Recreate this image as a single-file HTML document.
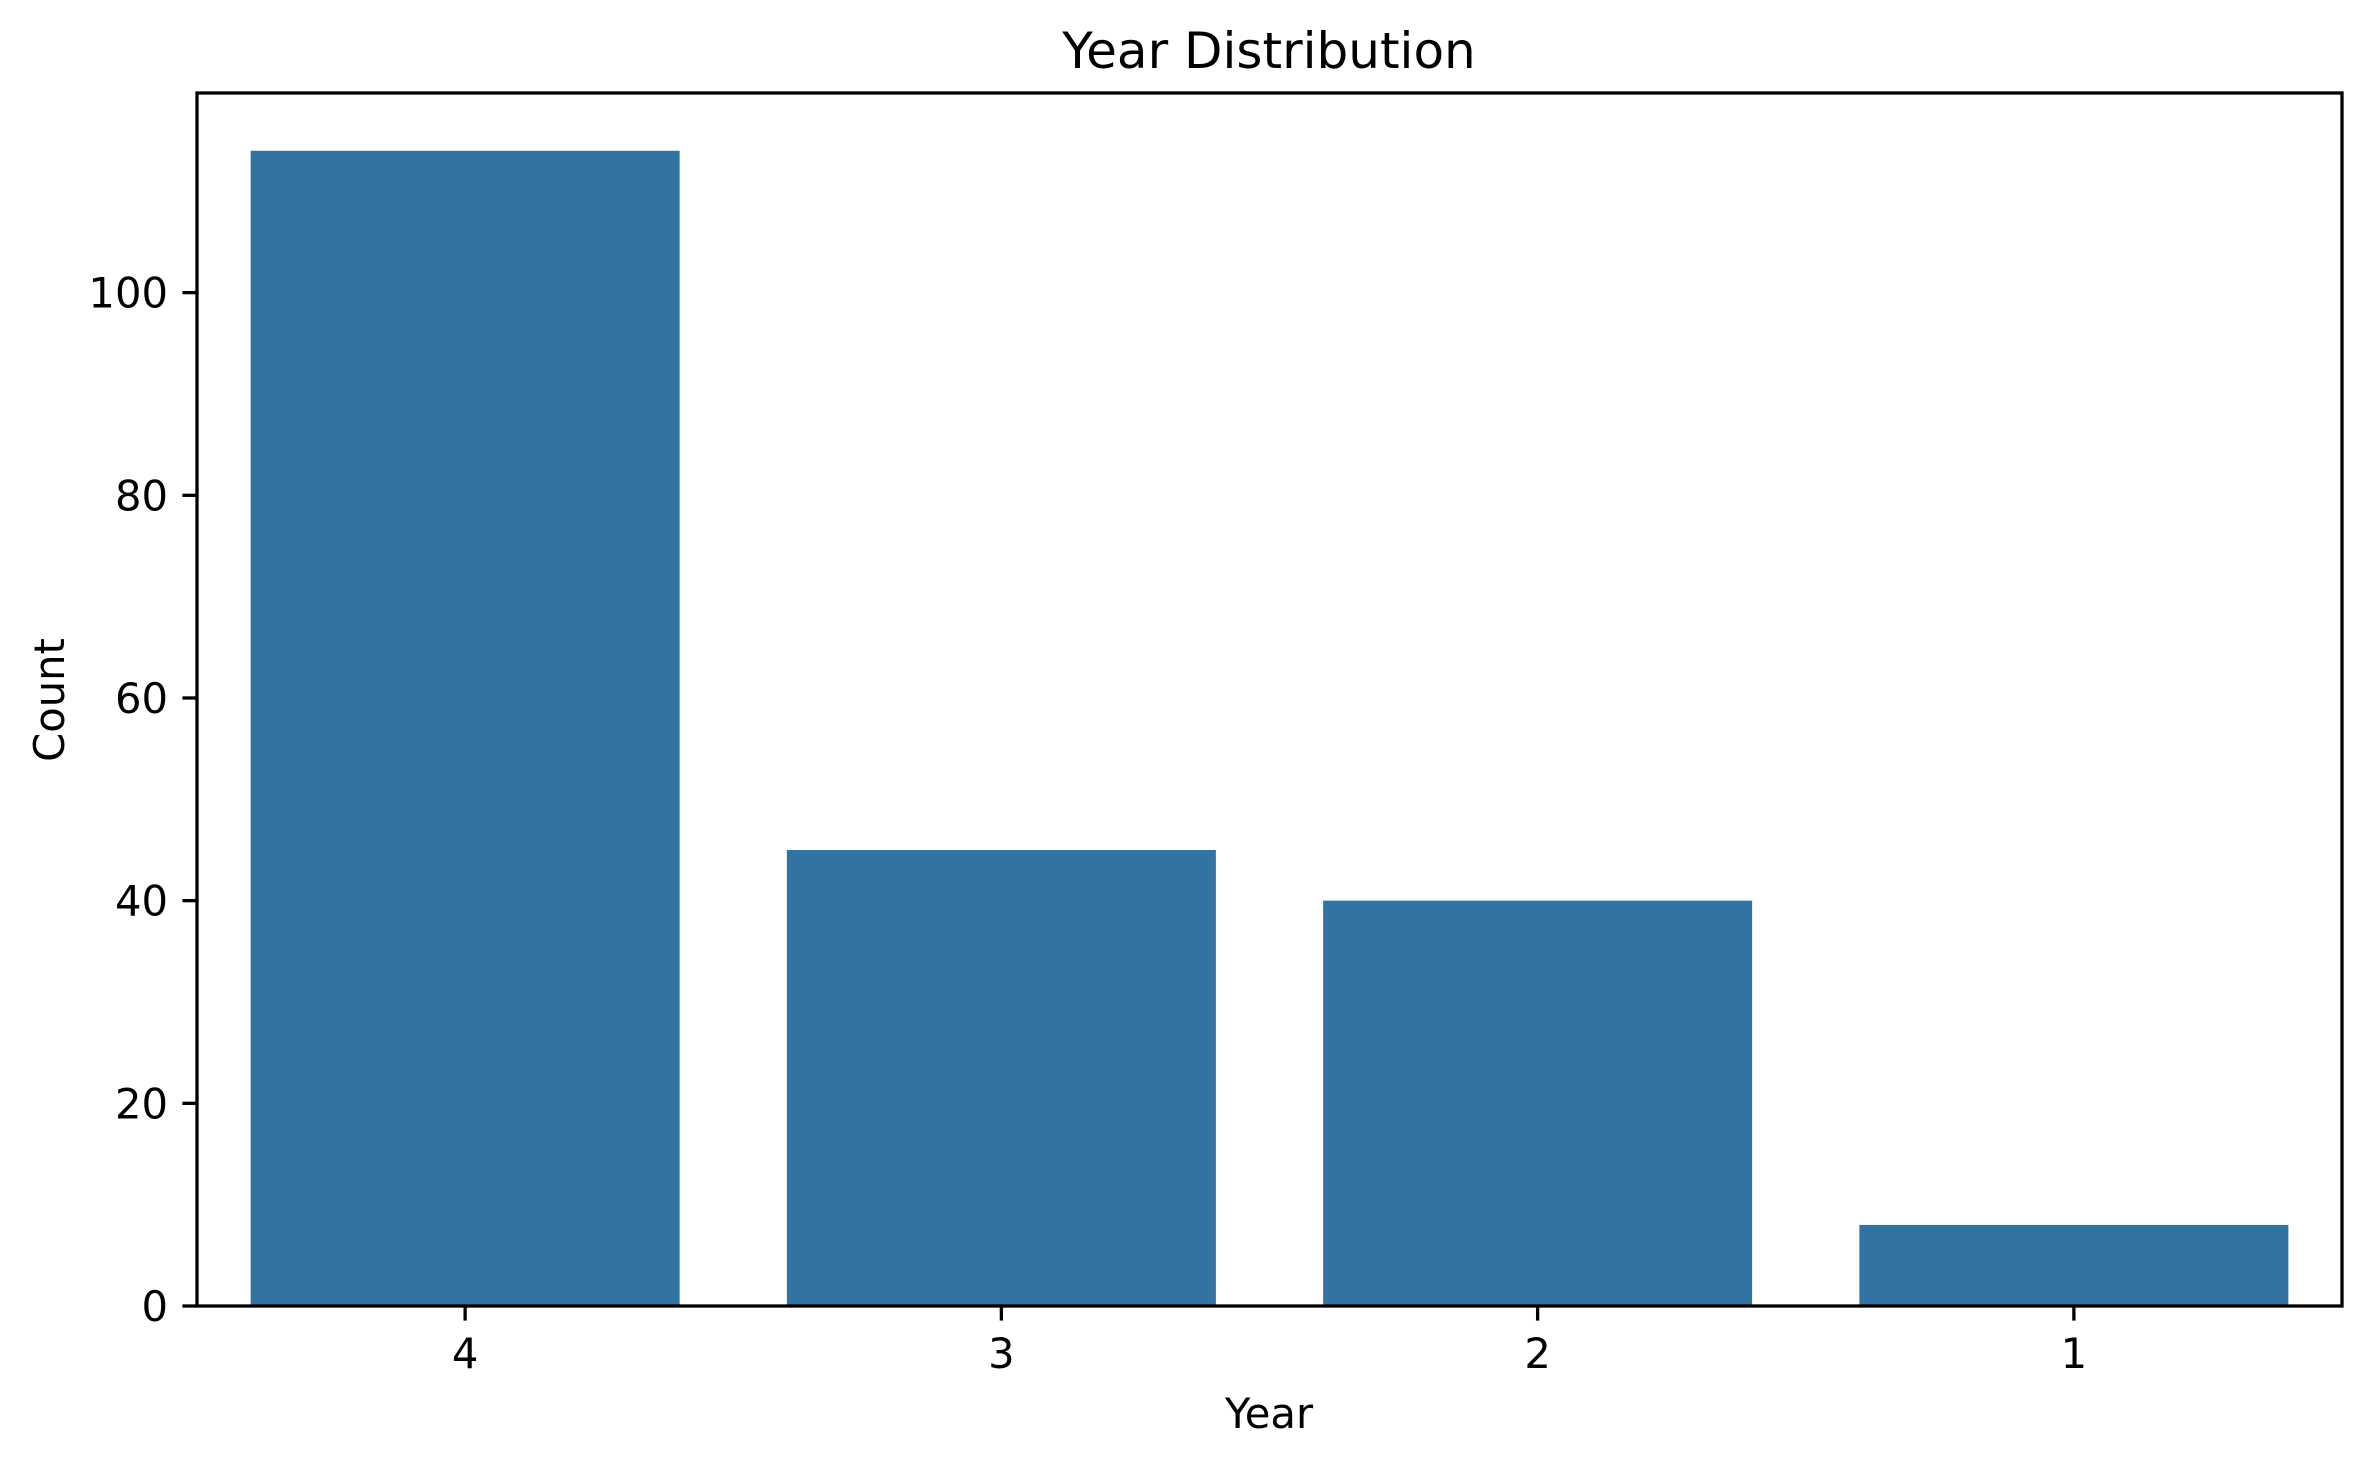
<!DOCTYPE html>
<html><head><meta charset="utf-8"><style>
html,body{margin:0;padding:0;background:#fff;}
svg{display:block;font-family:"DejaVu Sans","Liberation Sans",sans-serif;}
</style></head><body>
<svg id="chart" width="2370" height="1466" viewBox="0 0 2370 1466" xmlns="http://www.w3.org/2000/svg">
<rect width="2370" height="1466" fill="#fff"/>
<text x="1269" y="68" font-size="50" text-anchor="middle" fill="#000">Year Distribution</text>
<text x="1269" y="1428" font-size="41.7" text-anchor="middle" fill="#000">Year</text>
<text transform="translate(64,700) rotate(-90)" font-size="41.7" text-anchor="middle" fill="#000">Count</text>
<g id="bars"></g>
<g id="yticks"></g>
<g id="xticks"></g>
<rect x="197" y="93" width="2145" height="1213" fill="none" stroke="#000" stroke-width="3.3"/>
</svg>
<script>
const categories = ["4", "3", "2", "1"];
const counts = [114, 45, 40, 8];
const yTickValues = [0, 20, 40, 60, 80, 100];

const L = 197, R = 2342, T = 93, B = 1306;
const yMax = 119.7;
const ns = "http://www.w3.org/2000/svg";
function yScale(v){ return B - (v / yMax) * (B - T); }
const band = (R - L) / categories.length;
function xCenter(i){ return L + band * (i + 0.5); }

const barsG = document.getElementById('bars');
categories.forEach((c, i) => {
  const r = document.createElementNS(ns, 'rect');
  const w = band * 0.8;
  r.setAttribute('x', xCenter(i) - w / 2);
  r.setAttribute('y', yScale(counts[i]));
  r.setAttribute('width', w);
  r.setAttribute('height', B - yScale(counts[i]));
  r.setAttribute('fill', '#3274a1');
  
  
  barsG.appendChild(r);
});

const yG = document.getElementById('yticks');
yTickValues.forEach(v => {
  const y = yScale(v);
  const ln = document.createElementNS(ns, 'line');
  ln.setAttribute('x1', L - 14.6); ln.setAttribute('x2', L);
  ln.setAttribute('y1', y); ln.setAttribute('y2', y);
  ln.setAttribute('stroke', '#000'); ln.setAttribute('stroke-width', '3.3');
  
  
  yG.appendChild(ln);
  const t = document.createElementNS(ns, 'text');
  t.setAttribute('x', L - 29); t.setAttribute('y', y + 15);
  t.setAttribute('font-size', '41.7'); t.setAttribute('text-anchor', 'end');
  t.textContent = v;
  
  
  yG.appendChild(t);
});

const xG = document.getElementById('xticks');
categories.forEach((c, i) => {
  const x = xCenter(i);
  const ln = document.createElementNS(ns, 'line');
  ln.setAttribute('x1', x); ln.setAttribute('x2', x);
  ln.setAttribute('y1', B); ln.setAttribute('y2', B + 14.6);
  ln.setAttribute('stroke', '#000'); ln.setAttribute('stroke-width', '3.3');
  
  
  xG.appendChild(ln);
  const t = document.createElementNS(ns, 'text');
  t.setAttribute('x', x); t.setAttribute('y', B + 62);
  t.setAttribute('font-size', '41.7'); t.setAttribute('text-anchor', 'middle');
  t.textContent = c;
  
  
  xG.appendChild(t);
});
</script>
</body></html>
